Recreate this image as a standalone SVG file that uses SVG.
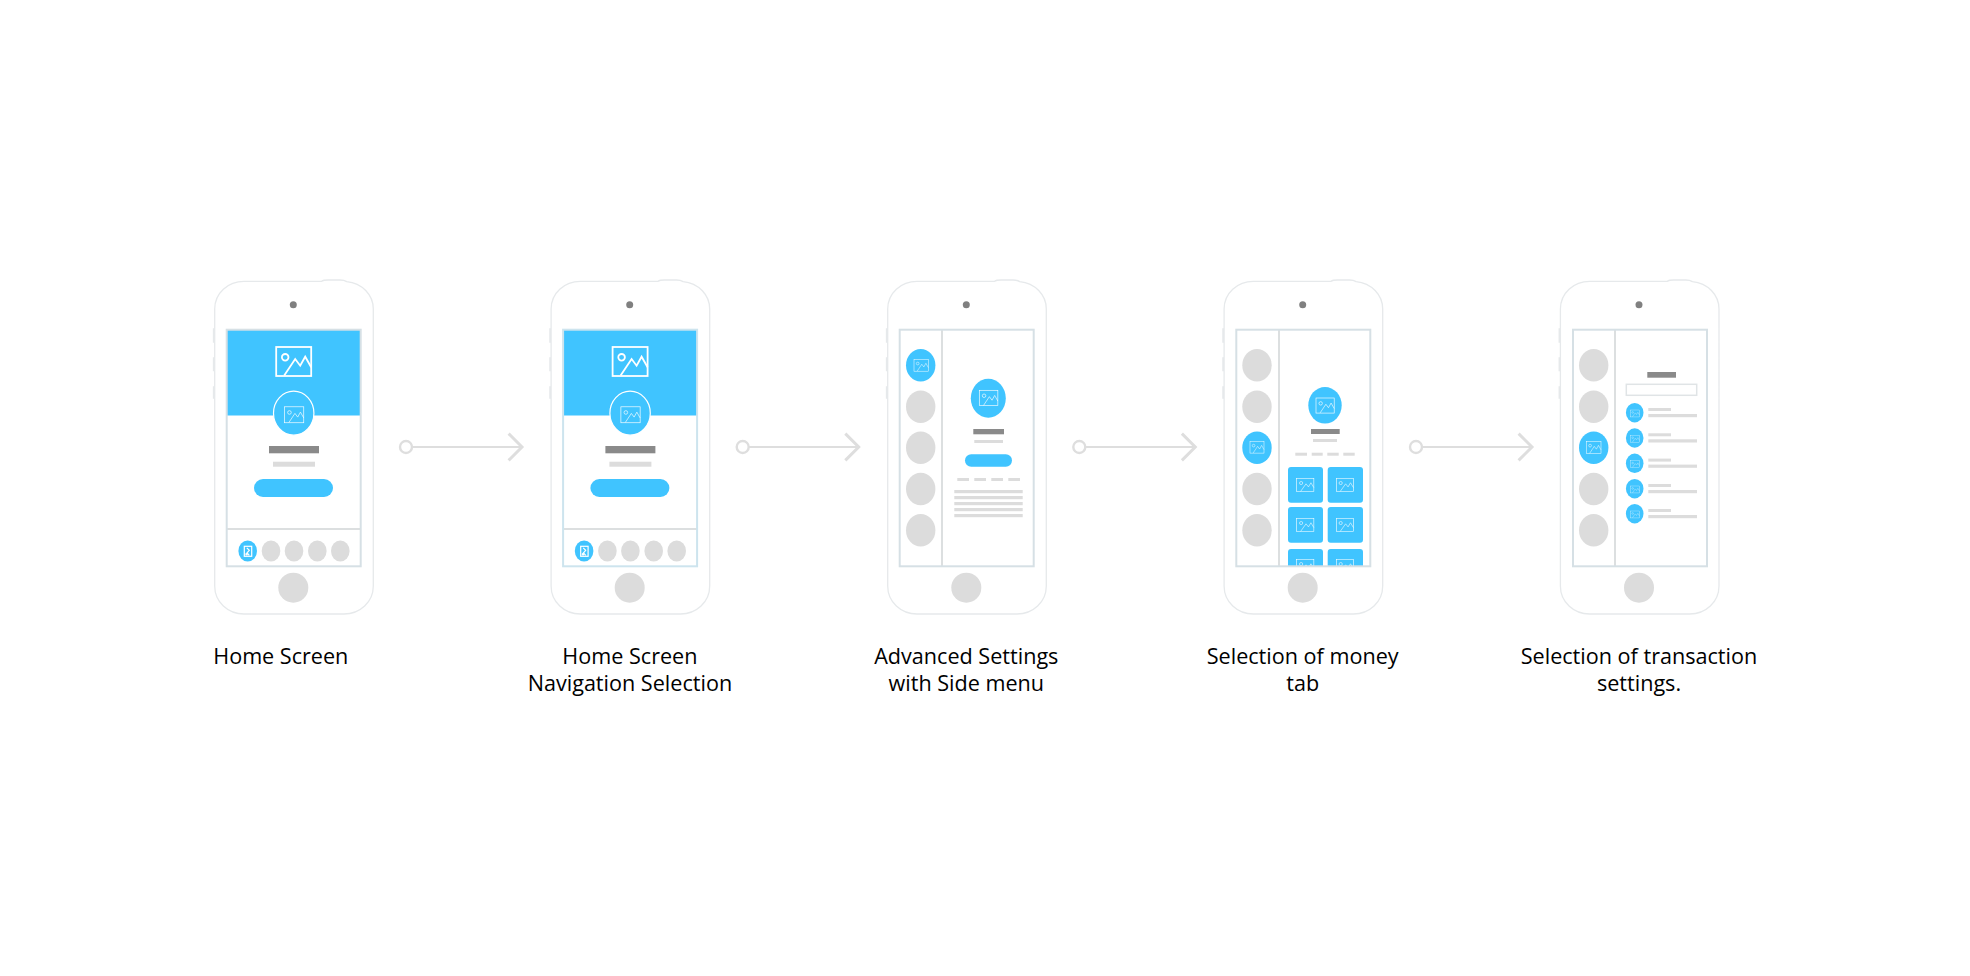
<svg xmlns="http://www.w3.org/2000/svg" width="1970" height="976" viewBox="0 0 1970 976">
<style>
.shell{fill:#fff;stroke:#e6e9eb;stroke-width:1.3}
.screen{fill:none;stroke:#d6e0e5;stroke-width:2}
.div{stroke:#dcdfe0;stroke-width:2}
.b{fill:#40c4ff}
.g{fill:#dcdcdc}
.d{fill:#8a8a8a}
.ic{fill:none;stroke:#fff}
.ic *{vector-effect:non-scaling-stroke}
.s1{stroke-width:1.2}
.s2{stroke-width:1.8}
.lbl{font-family:"Open Sans",sans-serif;font-size:21.6px;fill:#000;text-anchor:middle}
.conn{fill:none;stroke:#dedede;stroke-width:2.2}
</style>
<defs>
<g id="pic"><rect x="0" y="0" width="35" height="29"/><circle cx="9" cy="10.3" r="3.3"/><path d="M8 28.5 19 12 24 18.7 29 9.7 35 20.3"/></g>
<g id="navpic"><rect x="0" y="0" width="7.4" height="10"/><path d="M2.5 1.5 5 4 2.8 6.5 5 9"/><circle cx="2.3" cy="8" r=".7"/></g>
<g id="shell">
<path class="shell" d="M214.7 329H213.5V342H214.7M214.7 358H213.5V370.5H214.7M214.7 387H213.5V398H214.7M321.7 281.3C323 280.2 325 280 328 280H340C343 280 345 280.5 346.7 281.6C362 283 373.3 295 373.3 309V586C373.3 602 360 614 344 614H244C228 614 214.7 602 214.7 586V309C214.7 293 228 281.3 244 281.3Z"/>
<circle cx="293.3" cy="304.7" r="3.5" fill="#808080"/>
<circle cx="293.3" cy="587.7" r="15" fill="#dcdcdc"/>
</g>
<marker id="ring" markerUnits="userSpaceOnUse" markerWidth="18" markerHeight="18" refX="9" refY="9" orient="auto"><circle cx="9" cy="9" r="6" fill="#fff" stroke="#dedede" stroke-width="2.4"/></marker>
<marker id="chev" markerUnits="userSpaceOnUse" markerWidth="20" markerHeight="34" refX="16" refY="17" orient="auto"><path d="M2.6 3.6 16 17 2.6 30.4" fill="none" stroke="#dedede" stroke-width="3"/></marker>
<clipPath id="clip4"><rect x="1230" y="330" width="145" height="236"/></clipPath>
</defs>
<rect width="1970" height="976" fill="#fff"/>

<g id="connectors">
<line class="conn" x1="406" y1="447" x2="522" y2="447" marker-start="url(#ring)" marker-end="url(#chev)"/>
<line class="conn" x1="742.7" y1="447" x2="858.7" y2="447" marker-start="url(#ring)" marker-end="url(#chev)"/>
<line class="conn" x1="1079.3" y1="447" x2="1195.3" y2="447" marker-start="url(#ring)" marker-end="url(#chev)"/>
<line class="conn" x1="1416" y1="447" x2="1532" y2="447" marker-start="url(#ring)" marker-end="url(#chev)"/>
</g>

<g id="phone-1">
<use href="#shell"/>
<rect class="b" x="227" y="330" width="134" height="85.5"/>
<use href="#pic" class="ic s2" transform="translate(276.2 347)"/>
<ellipse class="b" cx="293.7" cy="413.2" rx="20.2" ry="22" stroke="#fff" stroke-width="1.2"/>
<use href="#pic" class="ic s1" transform="translate(284.5 406.8) scale(.55)"/>
<rect class="d" x="269" y="446" width="50" height="7.3"/>
<rect class="g" x="273" y="461.7" width="42" height="5"/>
<rect class="b" x="254" y="479" width="79" height="18" rx="9"/>
<line class="div" x1="227" y1="529" x2="361" y2="529"/>
<ellipse class="b" cx="247.7" cy="551" rx="9.3" ry="10.5"/>
<use href="#navpic" class="ic s1" transform="translate(244.3 546.3)"/>
<ellipse class="g" cx="271" cy="551" rx="9.3" ry="10.5"/>
<ellipse class="g" cx="294" cy="551" rx="9.3" ry="10.5"/>
<ellipse class="g" cx="317.3" cy="551" rx="9.3" ry="10.5"/>
<ellipse class="g" cx="340.3" cy="551" rx="9.3" ry="10.5"/>
<rect class="screen" x="226.7" y="329.7" width="134" height="236.6"/>
<text class="lbl" x="280.8" y="664">Home Screen</text>
</g>

<g id="phone-2">
<g transform="translate(336.4 0)">
<use href="#shell"/>
<rect class="b" x="227" y="330" width="134" height="85.5"/>
<use href="#pic" class="ic s2" transform="translate(276.2 347)"/>
<ellipse class="b" cx="293.7" cy="413.2" rx="20.2" ry="22" stroke="#fff" stroke-width="1.2"/>
<use href="#pic" class="ic s1" transform="translate(284.5 406.8) scale(.55)"/>
<rect class="d" x="269" y="446" width="50" height="7.3"/>
<rect class="g" x="273" y="461.7" width="42" height="5"/>
<rect class="b" x="254" y="479" width="79" height="18" rx="9"/>
<line class="div" x1="227" y1="529" x2="361" y2="529"/>
<ellipse class="b" cx="247.7" cy="551" rx="9.3" ry="10.5"/>
<use href="#navpic" class="ic s1" transform="translate(244.3 546.3)"/>
<ellipse class="g" cx="271" cy="551" rx="9.3" ry="10.5"/>
<ellipse class="g" cx="294" cy="551" rx="9.3" ry="10.5"/>
<ellipse class="g" cx="317.3" cy="551" rx="9.3" ry="10.5"/>
<ellipse class="g" cx="340.3" cy="551" rx="9.3" ry="10.5"/>
<rect class="screen" x="226.7" y="329.7" width="134" height="236.6" style="stroke:#cde4ee"/>
</g>
<text class="lbl" x="629.9" y="664">Home Screen</text>
<text class="lbl" x="629.9" y="690.5">Navigation Selection</text>
</g>

<g id="phone-3">
<use href="#shell" transform="translate(673 0)"/>
<ellipse class="b" cx="920.7" cy="365.3" rx="14.7" ry="16.3"/>
<use href="#pic" class="ic s1" transform="translate(914 359.3) scale(.41)"/>
<ellipse class="g" cx="920.7" cy="406.7" rx="14.7" ry="16.3"/>
<ellipse class="g" cx="920.7" cy="447.7" rx="14.7" ry="16.3"/>
<ellipse class="g" cx="920.7" cy="489" rx="14.7" ry="16.3"/>
<ellipse class="g" cx="920.7" cy="530.3" rx="14.7" ry="16.3"/>
<ellipse class="b" cx="988.3" cy="398.2" rx="17.5" ry="19.5"/>
<use href="#pic" class="ic s1" transform="translate(979.3 390.3) scale(.53)"/>
<rect class="d" x="973.3" y="429" width="30.7" height="5.3"/>
<rect class="g" x="974.3" y="440" width="28.7" height="3"/>
<rect class="b" x="965" y="454.3" width="47" height="12.4" rx="6.2"/>
<rect class="g" x="957.3" y="478" width="11.7" height="3"/>
<rect class="g" x="974.3" y="478" width="11.7" height="3"/>
<rect class="g" x="991.3" y="478" width="11.7" height="3"/>
<rect class="g" x="1008.3" y="478" width="11.7" height="3"/>
<rect class="g" x="954.3" y="490" width="68.4" height="3.2"/>
<rect class="g" x="954.3" y="496" width="68.4" height="3.2"/>
<rect class="g" x="954.3" y="502" width="68.4" height="3.2"/>
<rect class="g" x="954.3" y="508" width="68.4" height="3.2"/>
<rect class="g" x="954.3" y="514" width="68.4" height="3.2"/>
<line class="div" x1="942" y1="330" x2="942" y2="566"/>
<rect class="screen" x="899.7" y="329.7" width="134" height="236.6"/>
<text class="lbl" x="966.3" y="664">Advanced Settings</text>
<text class="lbl" x="966.3" y="690.5">with Side menu</text>
</g>

<g id="phone-4">
<use href="#shell" transform="translate(1009.4 0)"/>
<ellipse class="g" cx="1257" cy="365.3" rx="14.7" ry="16.3"/>
<ellipse class="g" cx="1257" cy="406.7" rx="14.7" ry="16.3"/>
<ellipse class="b" cx="1257" cy="447.7" rx="14.7" ry="16.3"/>
<use href="#pic" class="ic s1" transform="translate(1250 441.5) scale(.4)"/>
<ellipse class="g" cx="1257" cy="489" rx="14.7" ry="16.3"/>
<ellipse class="g" cx="1257" cy="530.3" rx="14.7" ry="16.3"/>
<ellipse class="b" cx="1325" cy="405.3" rx="16.7" ry="18.3"/>
<use href="#pic" class="ic s1" transform="translate(1316 398) scale(.52)"/>
<rect class="d" x="1311" y="429" width="28.7" height="5"/>
<rect class="g" x="1313" y="439" width="24" height="3"/>
<rect class="g" x="1295.3" y="452.7" width="11.7" height="3"/>
<rect class="g" x="1311.7" y="452.7" width="11" height="3"/>
<rect class="g" x="1327.3" y="452.7" width="11.4" height="3"/>
<rect class="g" x="1343.3" y="452.7" width="11.4" height="3"/>
<g clip-path="url(#clip4)">
<rect class="b" x="1288" y="467" width="35" height="35.7" rx="3"/>
<rect class="b" x="1327.7" y="467" width="35.3" height="35.7" rx="3"/>
<rect class="b" x="1288" y="507" width="35" height="35.7" rx="3"/>
<rect class="b" x="1327.7" y="507" width="35.3" height="35.7" rx="3"/>
<rect class="b" x="1288" y="549" width="35" height="35.7" rx="3"/>
<rect class="b" x="1327.7" y="549" width="35.3" height="35.7" rx="3"/>
<use href="#pic" class="ic s1" transform="translate(1296.7 478.3) scale(.49 .46)"/>
<use href="#pic" class="ic s1" transform="translate(1336.3 478.3) scale(.49 .46)"/>
<use href="#pic" class="ic s1" transform="translate(1296.7 518.3) scale(.49 .46)"/>
<use href="#pic" class="ic s1" transform="translate(1336.3 518.3) scale(.49 .46)"/>
<use href="#pic" class="ic s1" transform="translate(1296.7 559.3) scale(.49 .46)"/>
<use href="#pic" class="ic s1" transform="translate(1336.3 559.3) scale(.49 .46)"/>
</g>
<line class="div" x1="1279" y1="330" x2="1279" y2="566"/>
<rect class="screen" x="1236.3" y="329.7" width="134" height="236.6"/>
<text class="lbl" x="1302.7" y="664">Selection of money</text>
<text class="lbl" x="1302.7" y="690.5">tab</text>
</g>

<g id="phone-5">
<use href="#shell" transform="translate(1345.7 0)"/>
<ellipse class="g" cx="1593.7" cy="365.3" rx="14.7" ry="16.3"/>
<ellipse class="g" cx="1593.7" cy="406.7" rx="14.7" ry="16.3"/>
<ellipse class="b" cx="1593.7" cy="447.7" rx="14.7" ry="16.3"/>
<use href="#pic" class="ic s1" transform="translate(1586.3 441.3) scale(.42)"/>
<ellipse class="g" cx="1593.7" cy="489" rx="14.7" ry="16.3"/>
<ellipse class="g" cx="1593.7" cy="530.3" rx="14.7" ry="16.3"/>
<rect class="d" x="1647.3" y="372" width="28.7" height="5.7"/>
<rect x="1626.3" y="384.3" width="70.4" height="11" fill="#fff" stroke="#e0e4e6" stroke-width="1.5"/>
<ellipse class="b" cx="1634.7" cy="412.7" rx="8.8" ry="9.7"/>
<use href="#pic" class="ic s1" transform="translate(1630.3 410) scale(.26 .24)"/>
<rect class="g" x="1648.3" y="408" width="22.7" height="3"/>
<rect class="g" x="1648.3" y="414" width="48.7" height="3.2"/>
<ellipse class="b" cx="1634.7" cy="438" rx="8.8" ry="9.7"/>
<use href="#pic" class="ic s1" transform="translate(1630.3 435.3) scale(.26 .24)"/>
<rect class="g" x="1648.3" y="433.3" width="22.7" height="3"/>
<rect class="g" x="1648.3" y="439.3" width="48.7" height="3.2"/>
<ellipse class="b" cx="1634.7" cy="463.3" rx="8.8" ry="9.7"/>
<use href="#pic" class="ic s1" transform="translate(1630.3 460.6) scale(.26 .24)"/>
<rect class="g" x="1648.3" y="458.6" width="22.7" height="3"/>
<rect class="g" x="1648.3" y="464.6" width="48.7" height="3.2"/>
<ellipse class="b" cx="1634.7" cy="488.7" rx="8.8" ry="9.7"/>
<use href="#pic" class="ic s1" transform="translate(1630.3 486) scale(.26 .24)"/>
<rect class="g" x="1648.3" y="484" width="22.7" height="3"/>
<rect class="g" x="1648.3" y="490" width="48.7" height="3.2"/>
<ellipse class="b" cx="1634.7" cy="513.7" rx="8.8" ry="9.7"/>
<use href="#pic" class="ic s1" transform="translate(1630.3 511) scale(.26 .24)"/>
<rect class="g" x="1648.3" y="509" width="22.7" height="3"/>
<rect class="g" x="1648.3" y="515" width="48.7" height="3.2"/>
<line class="div" x1="1615" y1="330" x2="1615" y2="566"/>
<rect class="screen" x="1573" y="329.7" width="134" height="236.6"/>
<text class="lbl" x="1639" y="664">Selection of transaction</text>
<text class="lbl" x="1639" y="690.5">settings.</text>
</g>
</svg>
